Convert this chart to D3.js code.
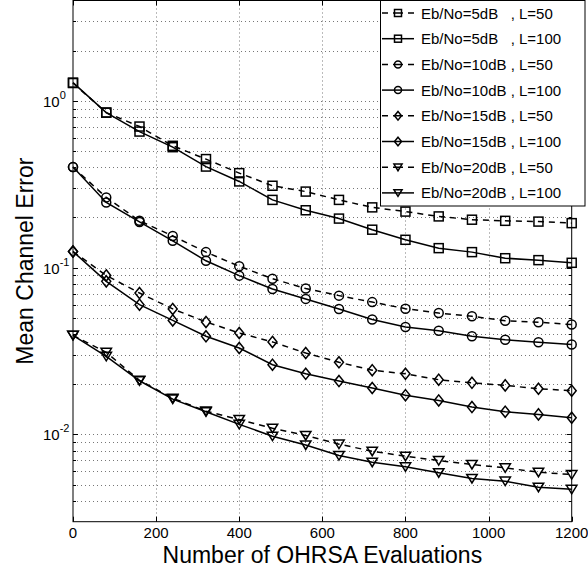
<!DOCTYPE html>
<html><head><meta charset="utf-8">
<script src="https://cdn.jsdelivr.net/npm/d3@7/dist/d3.min.js"></script>
<style>body{margin:0;background:#fff}svg{display:block}text{font-family:"Liberation Sans",Arial,Helvetica,sans-serif}</style>
</head><body><svg id="c" width="588" height="571"></svg>
<script>
const xValues = [0,80,160,240,320,400,480,560,640,720,800,880,960,1040,1120,1200];
const sq50  = [1.28,0.851,0.702,0.538,0.448,0.369,0.310,0.286,0.255,0.230,0.217,0.203,0.194,0.191,0.189,0.185];
const sq100 = [1.287,0.851,0.655,0.528,0.404,0.329,0.255,0.221,0.197,0.169,0.147,0.131,0.124,0.114,0.111,0.107];
const ci50  = [0.401,0.264,0.191,0.155,0.124,0.102,0.0859,0.075,0.068,0.0622,0.0568,0.0535,0.0511,0.0481,0.0471,0.0456];
const ci100 = [0.401,0.246,0.188,0.145,0.110,0.0896,0.0745,0.065,0.0565,0.0489,0.0441,0.0419,0.0388,0.0370,0.0357,0.0346];
const di50  = [0.125,0.0899,0.0705,0.0566,0.0473,0.0406,0.0359,0.0308,0.0271,0.0243,0.0231,0.0213,0.0204,0.0197,0.0188,0.0183];
const di100 = [0.125,0.0828,0.060,0.0483,0.0388,0.0330,0.0262,0.0231,0.0209,0.0190,0.0172,0.0160,0.0146,0.0137,0.0132,0.0126];
const tr50  = [0.0393,0.0311,0.0211,0.0165,0.0138,0.0123,0.0109,0.00986,0.00875,0.00794,0.00741,0.00698,0.00661,0.00631,0.00594,0.00575];
const tr100 = [0.0393,0.0294,0.0210,0.0163,0.0137,0.0115,0.00977,0.00865,0.00748,0.00682,0.00640,0.00590,0.00545,0.00525,0.00483,0.00469];
const seriesNames = ["Eb/No=5dB   , L=50","Eb/No=5dB   , L=100","Eb/No=10dB , L=50","Eb/No=10dB , L=100","Eb/No=15dB , L=50","Eb/No=15dB , L=100","Eb/No=20dB , L=50","Eb/No=20dB , L=100"];
const xTicks = [0,200,400,600,800,1000,1200];
const yTicks = [0.01,0.1,1];
const yTickExp = ["-2","-1","0"];
const xDomain = [0,1200];
const yDomain = [0.003,4];
const xLabel = "Number of OHRSA Evaluations";
const yLabel = "Mean Channel Error";

const seriesData = [sq50,sq100,ci50,ci100,di50,di100,tr50,tr100];
const markers = ["square","square","circle","circle","diamond","diamond","tri","tri"];
const dashed = [true,false,true,false,true,false,true,false];

const L=73, R=571.7, T=0.5, B=521.7;
const svg = d3.select("#c");
const x = d3.scaleLinear().domain(xDomain).range([L,R]);
const y = d3.scaleLog().domain(yDomain).range([B,T]);

// grid
const gridCol = "#777";
const minorVals = [];
for (let e=-3;e<=0;e++) for (let m=1;m<=9;m++){const v=m*Math.pow(10,e); if(v>yDomain[0]*1.0001 && v<yDomain[1]*0.9999) minorVals.push(v);}
const g = svg.append("g");
g.selectAll(".hg").data(minorVals).join("line")
  .attr("x1",L).attr("x2",R).attr("y1",d=>Math.round(y(d))+0.5).attr("y2",d=>Math.round(y(d))+0.5)
  .attr("stroke",gridCol).attr("stroke-width",1).attr("stroke-dasharray","1,3");
g.selectAll(".vg").data(xTicks.slice(1,-1)).join("line")
  .attr("y1",T).attr("y2",B).attr("x1",d=>Math.round(x(d))+0.5).attr("x2",d=>Math.round(x(d))+0.5)
  .attr("stroke",gridCol).attr("stroke-width",1).attr("stroke-dasharray","1,3");

// ticks
const tk = svg.append("g").attr("stroke","#000").attr("stroke-width",1);
minorVals.forEach(v=>{
  const len = yTicks.includes(v)?5:3;
  const yy = Math.round(y(v))+0.5;
  tk.append("line").attr("x1",L).attr("x2",L+len).attr("y1",yy).attr("y2",yy);
  tk.append("line").attr("x1",R-len).attr("x2",R).attr("y1",yy).attr("y2",yy);
});
xTicks.forEach(v=>{
  const xx = Math.round(x(v))+0.5;
  tk.append("line").attr("x1",xx).attr("x2",xx).attr("y1",B).attr("y2",B-5);
  tk.append("line").attr("x1",xx).attr("x2",xx).attr("y1",T).attr("y2",T+5);
});

// series
const line = d3.line().x((d,i)=>x(xValues[i])).y(d=>y(d));
function drawMarker(sel, type, cx, cy, s){
  let el;
  if(type==="square") el = sel.append("rect").attr("x",cx-s/2).attr("y",cy-s/2).attr("width",s).attr("height",s);
  else if(type==="circle") el = sel.append("circle").attr("cx",cx).attr("cy",cy).attr("r",s/2);
  else if(type==="diamond") el = sel.append("path").attr("d",`M${cx},${cy-s*0.62}L${cx+s*0.5},${cy}L${cx},${cy+s*0.62}L${cx-s*0.5},${cy}Z`);
  else el = sel.append("path").attr("d",`M${cx-s*0.58},${cy-s*0.45}L${cx+s*0.58},${cy-s*0.45}L${cx},${cy+s*0.5}Z`);
  el.attr("fill","none").attr("stroke","#000").attr("stroke-width",1.5);
}
seriesData.forEach((arr,k)=>{
  const sg = svg.append("g");
  sg.append("path").attr("d",line(arr)).attr("fill","none").attr("stroke","#000")
    .attr("stroke-width",1.5).attr("stroke-dasharray",dashed[k]?"6,5":null);
  arr.forEach((v,i)=>drawMarker(sg,markers[k],x(xValues[i]),y(v),9));
});

// frame
svg.append("rect").attr("x",L).attr("y",T).attr("width",R-L).attr("height",B-T)
  .attr("fill","none").attr("stroke","#000").attr("stroke-width",1);

// tick labels
xTicks.forEach(v=>{
  svg.append("text").attr("x",x(v)).attr("y",538).attr("text-anchor","middle")
    .attr("font-size",15).text(v);
});
yTicks.forEach((v,i)=>{
  const t = svg.append("text").attr("x",43).attr("y",y(v)+6).attr("font-size",15);
  t.append("tspan").text("10");
  t.append("tspan").attr("dy",-8).attr("font-size",11).text(yTickExp[i]);
});

// axis labels
svg.append("text").attr("x",(L+R)/2).attr("y",563).attr("text-anchor","middle").attr("font-size",23).text(xLabel);
svg.append("text").attr("transform",`translate(33,${(T+B)/2}) rotate(-90)`).attr("text-anchor","middle").attr("font-size",23).text(yLabel);

// legend
const lg = svg.append("g");
lg.append("rect").attr("x",380.5).attr("y",0.5).attr("width",204.5).attr("height",205.5)
  .attr("fill","#fff").attr("stroke","#000").attr("stroke-width",1);
seriesNames.forEach((name,k)=>{
  const yy = 13 + k*25.7;
  lg.append("line").attr("x1",382).attr("x2",414).attr("y1",yy).attr("y2",yy)
    .attr("stroke","#000").attr("stroke-width",1.5).attr("stroke-dasharray",dashed[k]?"6,5,10,5,6":null);
  drawMarker(lg,markers[k],398,yy,7);
  lg.append("text").attr("x",421).attr("y",yy+5.5).attr("font-size",15)
    .style("white-space","pre").text(name);
});
</script></body></html>
